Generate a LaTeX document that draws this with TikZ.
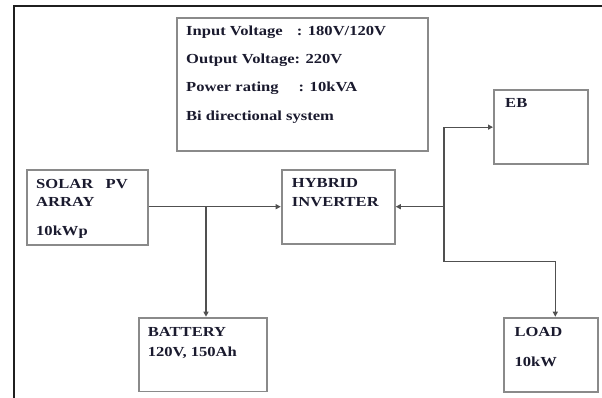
\documentclass[tikz,border=0pt]{standalone}
\usepackage{fontspec}
\newfontfamily\boxfont{Liberation Serif}[FakeStretch=1.2]
\usetikzlibrary{arrows.meta}
\definecolor{txt}{HTML}{1A1A2E}
\definecolor{boxline}{HTML}{8A8A8A}
\definecolor{wire}{HTML}{505050}
\begin{document}
\begin{tikzpicture}[x=1pt,y=-1pt,
  blk/.style={draw=boxline,line width=1.8pt,rectangle,inner sep=0pt,anchor=north west},
  lbl/.style={anchor=base west,inner sep=0pt,text=txt,font=\boxfont\bfseries\fontsize{13.8}{16}\selectfont},
  wireline/.style={draw=wire,line width=1.1pt},
  arr/.style={wireline,-{Triangle[length=5pt,width=5pt]}}]
\useasboundingbox (0,0) rectangle (602,398);
% outer frame
\draw[line width=2.4pt,color=black!88] (14,400) -- (14,6) -- (604,6);
% boxes
\node[blk,minimum width=251pt,minimum height=132.7pt] (info) at (176,17.3) {};
\node[blk,minimum width=94pt,minimum height=74.5pt] (eb) at (493,89) {};
\node[blk,minimum width=120.7pt,minimum height=74.7pt] (solar) at (26,169.3) {};
\node[blk,minimum width=113.3pt,minimum height=74pt] (hybrid) at (280.7,169.3) {};
\node[blk,minimum width=127.7pt,minimum height=73.8pt] (battery) at (138,316.7) {};
\node[blk,minimum width=93.4pt,minimum height=74pt] (load) at (503.3,316.7) {};
% texts
\node[lbl] (t1) at (186,36) {\makebox[110.7pt][l]{Input Voltage}: 180V/120V};
\node[lbl] (t2) at (186,64) {Output Voltage: 220V};
\node[lbl] (t3) at (186,92) {\makebox[112.5pt][l]{Power rating}: 10kVA};
\node[lbl] (t4) at (186,121) {Bi directional system};
\node[lbl] (teb) at (505,108) {EB};
\node[lbl] (ts1) at (36,188.3) {SOLAR\ \ \ PV};
\node[lbl] (ts2) at (36,206.7) {ARRAY};
\node[lbl] (ts3) at (36,235) {10kWp};
\node[lbl] (th1) at (291.7,187.3) {HYBRID};
\node[lbl] (th2) at (291.7,206.7) {INVERTER};
\node[lbl] (tb1) at (147.7,336) {BATTERY};
\node[lbl] (tb2) at (147.7,356.7) {120V, 150Ah};
\node[lbl] (tl1) at (514.3,336) {LOAD};
\node[lbl] (tl2) at (514.3,366.7) {10kW};
% connectors
\coordinate (j1) at (206,206.7);
\coordinate (j2) at (444,206.7);
\coordinate (j3) at (444,261.7);
\coordinate (j4) at (555.3,261.7);
\draw[arr] (solar.east |- j1) -- (hybrid.west |- j1);
\draw[arr] (j1) -- (j1 |- battery.north);
\draw[arr] (j2) -- (hybrid.east |- j2);
\draw[arr] (j2) |- (eb.west);
\draw[arr] (j2) -- (j3) -- (j4) -- (j4 |- load.north);
\end{tikzpicture}
\end{document}
